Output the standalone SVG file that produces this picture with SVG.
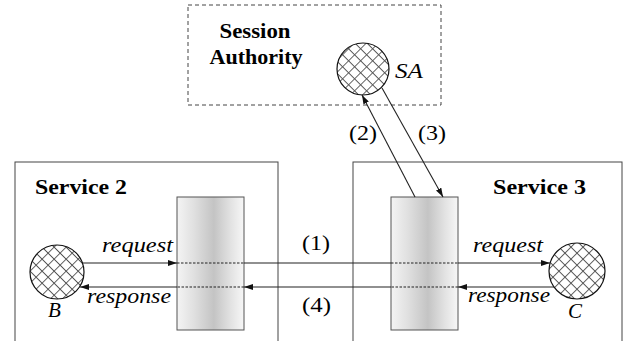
<svg xmlns="http://www.w3.org/2000/svg" width="634" height="341" viewBox="0 0 634 341">
<style>
.box{fill:none;stroke:#444;stroke-width:1}
.dbox{fill:none;stroke:#444;stroke-width:1;stroke-dasharray:4,3}
.bar{fill:url(#barGrad);stroke:#555;stroke-width:1}
.ent{fill:url(#hatch);stroke:#111;stroke-width:1.2}
.ln{fill:none;stroke:#222;stroke-width:1.1}
.arr{marker-end:url(#ah)}
.dl{fill:none;stroke:#222;stroke-width:1;stroke-dasharray:2.5,1.5}
text{font-family:'Liberation Serif',serif;fill:#000}
.bt{font-weight:bold;font-size:20px}
.it{font-style:italic;font-size:21px}
.nt{font-size:21px}
</style>
<defs>
<linearGradient id="barGrad" x1="0" y1="0" x2="1" y2="0">
<stop offset="0" stop-color="#f4f4f4"/>
<stop offset="0.25" stop-color="#e0e0e0"/>
<stop offset="0.55" stop-color="#c4c4c4"/>
<stop offset="0.8" stop-color="#e2e2e2"/>
<stop offset="1" stop-color="#f7f7f7"/>
</linearGradient>
<pattern id="hatch" width="8.5" height="8.5" patternUnits="userSpaceOnUse" patternTransform="rotate(45)">
<rect width="8.5" height="8.5" fill="#fff"/>
<path d="M0,0 H8.5 M0,0 V8.5" stroke="#555" stroke-width="1.8"/>
</pattern>
<marker id="ah" markerUnits="userSpaceOnUse" markerWidth="9" markerHeight="6" refX="9" refY="3" orient="auto">
<path d="M0,0 L9,3 L0,6 z" fill="#111"/>
</marker>
</defs>

<g id="session-authority">
<rect class="dbox" x="188" y="5" width="253" height="100"/>
<text class="bt" x="255" y="38" text-anchor="middle" textLength="71" lengthAdjust="spacingAndGlyphs">Session</text>
<text class="bt" x="256" y="64" text-anchor="middle" textLength="93" lengthAdjust="spacingAndGlyphs">Authority</text>
</g>
<g id="SA">
<circle class="ent" cx="363" cy="69" r="26"/>
<text class="it" x="395" y="78" textLength="28" lengthAdjust="spacingAndGlyphs">SA</text>
</g>

<g id="service2">
<rect class="box" x="15" y="162" width="263" height="190"/>
<text class="bt" x="35" y="194" textLength="92" lengthAdjust="spacingAndGlyphs">Service 2</text>
</g>
<g id="service3">
<rect class="box" x="353" y="162" width="269" height="190"/>
<text class="bt" x="493" y="194" textLength="93" lengthAdjust="spacingAndGlyphs">Service 3</text>
</g>

<g id="bar2">
<rect class="bar" x="177" y="197" width="67" height="133"/>
</g>
<g id="bar3">
<rect class="bar" x="391" y="197" width="67" height="133"/>
</g>

<g id="B">
<circle class="ent" cx="57" cy="272" r="27"/>
<text class="it" x="48" y="317">B</text>
</g>
<g id="C">
<circle class="ent" cx="577" cy="271" r="28"/>
<text class="it" x="568" y="318">C</text>
</g>

<g id="connectors">
<line class="ln arr" x1="83" y1="263" x2="177" y2="263"/>
<line class="dl" x1="177" y1="263" x2="244" y2="263"/>
<line class="ln" x1="244" y1="263" x2="391" y2="263"/>
<line class="dl" x1="391" y1="263" x2="458" y2="263"/>
<line class="ln arr" x1="458" y1="263" x2="550" y2="263"/>
<line class="ln arr" x1="554" y1="287" x2="458" y2="287"/>
<line class="dl" x1="458" y1="287" x2="391" y2="287"/>
<line class="ln arr" x1="391" y1="287" x2="244" y2="287"/>
<line class="dl" x1="244" y1="287" x2="177" y2="287"/>
<line class="ln arr" x1="177" y1="287" x2="80" y2="287"/>
<line class="ln arr" x1="415" y1="197" x2="362" y2="95"/>
<line class="ln arr" x1="382" y1="88" x2="443" y2="197"/>
<text class="it" x="102" y="252" textLength="71" lengthAdjust="spacingAndGlyphs">request</text>
<text class="it" x="87" y="303" textLength="84" lengthAdjust="spacingAndGlyphs">response</text>
<text class="it" x="473" y="252" textLength="70" lengthAdjust="spacingAndGlyphs">request</text>
<text class="it" x="468" y="302" textLength="82" lengthAdjust="spacingAndGlyphs">response</text>
<text class="nt" x="302" y="250" textLength="28" lengthAdjust="spacingAndGlyphs">(1)</text>
<text class="nt" x="302" y="312" textLength="29" lengthAdjust="spacingAndGlyphs">(4)</text>
<text class="nt" x="349" y="140" textLength="28" lengthAdjust="spacingAndGlyphs">(2)</text>
<text class="nt" x="418" y="140" textLength="28" lengthAdjust="spacingAndGlyphs">(3)</text>
</g>
</svg>
